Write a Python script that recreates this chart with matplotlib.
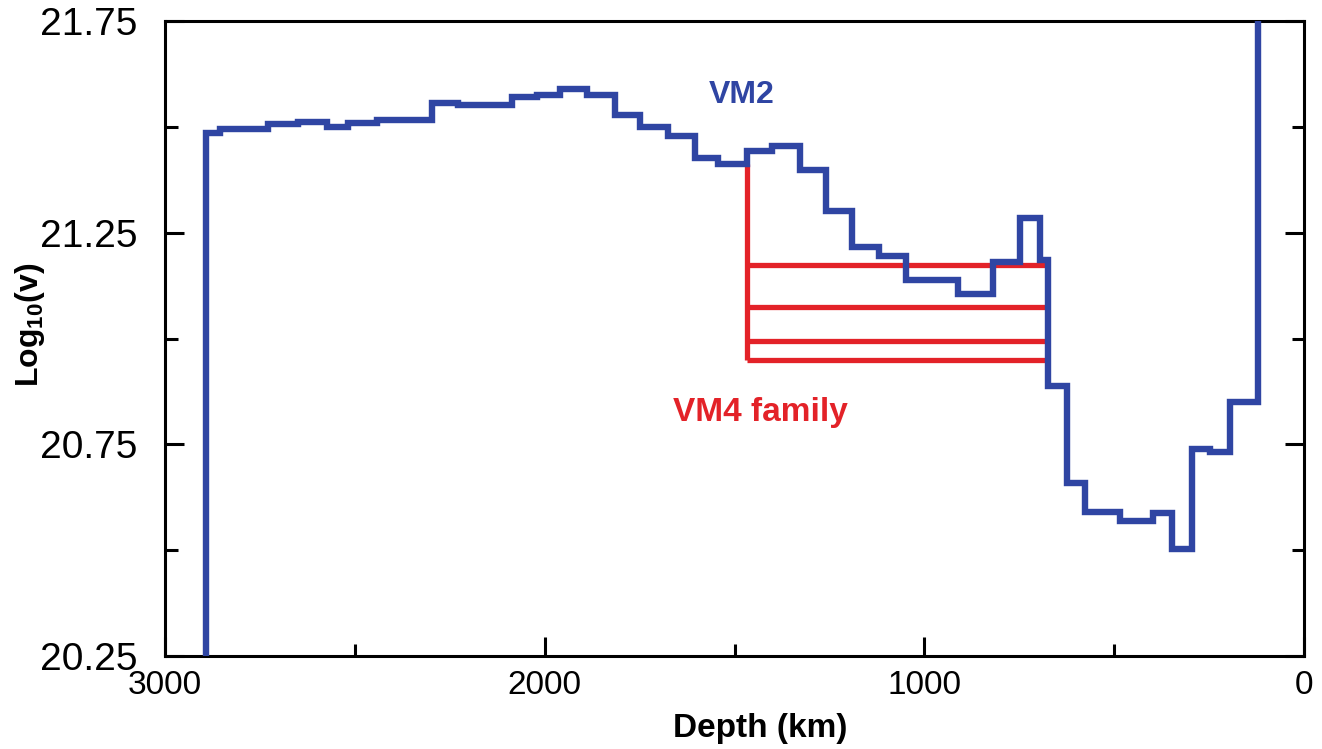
import matplotlib
matplotlib.use("Agg")
import matplotlib.pyplot as plt
from matplotlib.ticker import MultipleLocator

# VM2 viscosity profile: layer boundaries (depth, km) and log10 viscosity per layer
vm2_depth_bounds = [2891, 2855, 2729, 2650, 2573, 2518, 2442, 2297, 2228, 2086,
                    2020, 1960, 1888, 1815, 1749, 1675, 1604, 1543, 1467, 1401,
                    1327, 1259, 1190, 1119, 1048, 911, 819, 748, 695, 675,
                    624, 577, 485, 398, 348, 295, 248, 195, 121, 0]
vm2_log_visc = [21.486, 21.495, 21.506, 21.511, 21.500, 21.510, 21.515, 21.557, 21.552, 21.571,
                21.576, 21.589, 21.575, 21.528, 21.500, 21.478, 21.426, 21.412, 21.444, 21.455,
                21.398, 21.301, 21.217, 21.194, 21.139, 21.105, 21.181, 21.285, 21.185, 20.888,
                20.659, 20.590, 20.570, 20.588, 20.503, 20.739, 20.733, 20.850, 23.0]

# VM4 family: uniform lower-mantle layer between these depths
vm4_top_depth = 675
vm4_bottom_depth = 1467
vm4_log_visc = [21.174, 21.075, 20.995, 20.949]
vm4_join_value = 21.412

x_ticks = [3000, 2000, 1000, 0]
y_ticks = [21.75, 21.25, 20.75, 20.25]

BLUE = "#2f45a3"
RED = "#e32228"

plt.rcParams["font.family"] = ["Liberation Sans", "DejaVu Sans"]
plt.rcParams["mathtext.fontset"] = "custom"
plt.rcParams["mathtext.rm"] = "Liberation Sans:bold"
plt.rcParams["mathtext.bf"] = "Liberation Sans:bold"

fig = plt.figure(figsize=(13.22, 7.49), dpi=100)
ax = fig.add_axes([165 / 1322, 1 - 656 / 749, (1304 - 165) / 1322, (656 - 21) / 749])

# VM2 step profile, rising from below the axis at the core-mantle boundary
xs = [vm2_depth_bounds[0]] + vm2_depth_bounds
ys = [19.5] + vm2_log_visc + [vm2_log_visc[-1]]

# VM4 family lines
ax.plot([vm4_bottom_depth, vm4_bottom_depth], [min(vm4_log_visc), vm4_join_value],
        color=RED, lw=3.8, solid_capstyle="butt", zorder=2)
for v in vm4_log_visc:
    ax.plot([vm4_bottom_depth, vm4_top_depth], [v, v], color=RED, lw=3.8,
            solid_capstyle="butt", zorder=2)

ax.plot(xs, ys, drawstyle="steps-post", color=BLUE, lw=4.6,
        solid_joinstyle="miter", zorder=3)

ax.set_xlim(3000, 0)
ax.set_ylim(20.25, 21.75)

for s in ax.spines.values():
    s.set_linewidth(2.2)

ax.set_xticks(x_ticks)
ax.xaxis.set_minor_locator(MultipleLocator(500))
ax.set_yticks(y_ticks)
ax.yaxis.set_minor_locator(MultipleLocator(0.25))
ax.tick_params(axis="x", which="major", direction="in", length=14, width=2.2,
               pad=10, top=False)
ax.tick_params(axis="x", which="minor", direction="in", length=9, width=2.2, top=False)
ax.tick_params(axis="y", which="major", direction="in", length=14, width=2.2,
               pad=20, right=True)
ax.tick_params(axis="y", which="minor", direction="in", length=9, width=2.2, right=True)
ax.set_yticklabels(["21.75", "21.25", "20.75", "20.25"], fontsize=28)
ax.set_xticklabels(["3000", "2000", "1000", "0"], fontsize=24)

fig.text(760 / 1322, 1 - 728 / 749, "Depth (km)", ha="center", va="center",
         fontsize=24, fontweight="bold")
fig.text(30 / 1322, 1 - 325 / 749, r"$\mathrm{Log_{10}(v)}$", ha="center", va="center",
         rotation=90, fontsize=23)

ax.text(1480, 21.575, "VM2", color=BLUE, fontsize=23, fontweight="bold",
        ha="center", va="center")
ax.text(1433, 20.826, "VM4 family", color=RED, fontsize=24, fontweight="bold",
        ha="center", va="center")

fig.savefig("out.png", dpi=100)
